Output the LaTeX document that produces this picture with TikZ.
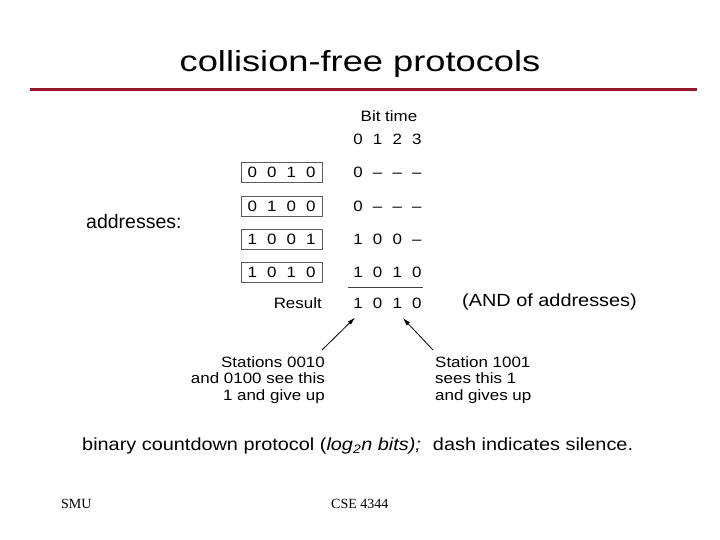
\documentclass[tikz,border=0pt]{standalone}
\usepackage{fontspec}
\setmainfont{Liberation Sans}
\newfontfamily\titlefont[FakeStretch=1.25]{Liberation Sans}
\newfontfamily\bodyfont[FakeStretch=1.13]{Liberation Sans}
\newfontfamily\footfont{Liberation Serif}
\usetikzlibrary{arrows.meta}
\definecolor{slidered}{RGB}{150,24,44}
\definecolor{boxgray}{RGB}{90,90,90}

\begin{document}
\begin{tikzpicture}[x=1pt,y=-1pt,
	big/.style={font=\bodyfont\fontsize{17.6}{20}\selectfont, inner sep=0pt},
	fig/.style={font=\bodyfont\fontsize{15}{16.5}\selectfont, inner sep=0pt},
	bit/.style={fig, anchor=base, text height=10.7pt, text depth=0pt},
	foot/.style={font=\footfont\fontsize{14}{16}\selectfont, anchor=base west, inner sep=0pt},
	addrbox/.style={draw=boxgray, line width=0.9pt, minimum width=81pt, minimum height=20pt, inner sep=0pt},
	arr/.style={line width=0.8pt, -{Latex[length=8pt,width=4.5pt]}}]
	%%%%% START %%%%%
	\def\colx{338.5}
	\def\dcol{19.6}
	\def\boxx{232.75}
	\def\dbox{19.5}
	\def\up{5.3}
	
	\path[fill=white] (0,0) rectangle (720,539);
	\useasboundingbox (0,0) rectangle (720,539);
	
	% title and rule
	\node[font=\titlefont\fontsize{29}{32}\selectfont, anchor=base, inner sep=0pt] (title) at (360,71.7) {collision-free protocols};
	\draw[line width=3pt, slidered] (30,89.5) -- (697,89.5);
	
	% bit time header
	\node[fig, anchor=base] (bittime) at (389,121.5) {Bit time};
	\foreach \t [count=\j] in {0,1,2,3}
		\node[bit] (h\j) at ({\colx+\dcol*\j},144.4) {\t};
	
	\node[font=\fontsize{19.5}{22}\selectfont, inner sep=0pt, anchor=base west] (addresses) at (86,228.7) {addresses:};
	
	% address boxes and bits
	\foreach \ya/\pa/\pb/\pc/\pd/\qa/\qb/\qc/\qd [count=\i] in {
		172/0/0/1/0/0/\textendash/\textendash/\textendash,
		206/0/1/0/0/0/\textendash/\textendash/\textendash,
		239.5/1/0/0/1/1/0/0/\textendash,
		272.5/1/0/1/0/1/0/1/0}{
		\node[addrbox] (box\i) at (281.5,\ya) {};
		\node[bit] (a\i1) at ({\boxx+\dbox*1},\ya+\up) {\pa};
		\node[bit] (a\i2) at ({\boxx+\dbox*2},\ya+\up) {\pb};
		\node[bit] (a\i3) at ({\boxx+\dbox*3},\ya+\up) {\pc};
		\node[bit] (a\i4) at ({\boxx+\dbox*4},\ya+\up) {\pd};
		\node[bit] (b\i1) at ({\colx+\dcol*1},\ya+\up) {\qa};
		\node[bit] (b\i2) at ({\colx+\dcol*2},\ya+\up) {\qb};
		\node[bit] (b\i3) at ({\colx+\dcol*3},\ya+\up) {\qc};
		\node[bit] (b\i4) at ({\colx+\dcol*4},\ya+\up) {\qd};
	}
	
	\draw[line width=0.6pt, black!75] (348,287) -- (423,287);
	
	% result
	\node[fig, anchor=base east] (result) at (322,308.3) {Result};
	\foreach \t [count=\j] in {1,0,1,0}
		\node[bit] (res\j) at ({\colx+\dcol*\j},308.3) {\t};
	\node[big, anchor=base west] (andof) at (462,306.7) {(AND of addresses)};
	
	% stations
	\node[fig, align=right, anchor=north east] (stl) at (325,356) {Stations 0010\\and 0100 see this\\1 and give up};
	\node[fig, align=left, anchor=north west] (str) at (435,356) {Station 1001\\sees this 1\\and gives up};
	\draw[arr] ([shift={(-3pt,6pt)}]stl.north east) -- ([shift={(-3pt,-9pt)}]res1.south);
	\draw[arr] ([shift={(-2pt,6pt)}]str.north west) -- ([shift={(5.5pt,-9.5pt)}]res3.south);
	
	\node[big, anchor=base west] (caption) at (82,450.5) {binary countdown protocol (\textit{log\textsubscript{2}n bits);}\hspace{12pt}dash indicates silence.};
	
	% footer
	\node[foot] (smu) at (61,508) {SMU};
	\node[foot] (cse) at (331,508) {CSE 4344};
	%%%%% END %%%%%
\end{tikzpicture}
\end{document}
